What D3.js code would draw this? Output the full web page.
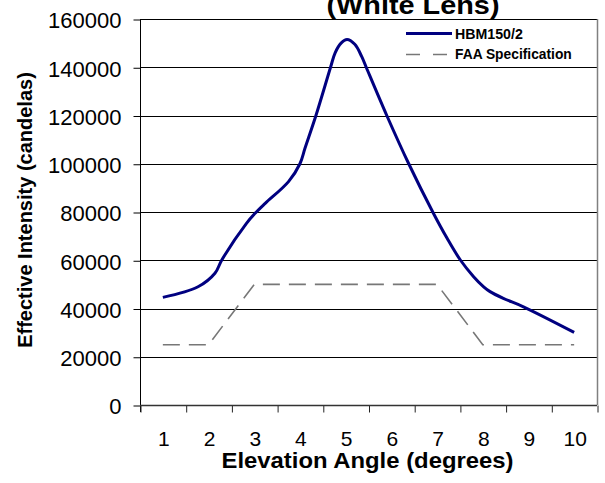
<!DOCTYPE html>
<html>
<head>
<meta charset="utf-8">
<script src="https://cdn.jsdelivr.net/npm/d3@7"></script>
<style>
  html, body { margin: 0; padding: 0; background: #fff; }
  svg { display: block; font-family: "Liberation Sans", Arial, sans-serif; }
</style>
</head>
<body>
<svg id="chart" width="605" height="483"></svg>
<script>
// ---- data ----
const titleText = "(White Lens)";
const xTitle = "Elevation Angle (degrees)";
const yTitle = "Effective Intensity (candelas)";
const xTickLabels = [1, 2, 3, 4, 5, 6, 7, 8, 9, 10];
const yTickValues = [0, 20000, 40000, 60000, 80000, 100000, 120000, 140000, 160000];

const hbmName = "HBM150/2";
const hbmAngle = [1.0, 1.77, 2.14, 2.29, 2.83, 3.02, 3.24, 3.75, 4.0, 4.11, 4.35, 4.67, 4.77, 4.9, 5.03, 5.2, 5.35, 5.45, 5.9, 6.375, 6.92, 7.22, 7.51, 7.8, 8.02, 8.16, 8.45, 8.89, 10.0];
const hbmValue = [44600, 49000, 54600, 60100, 75300, 79500, 83600, 92600, 100000, 106400, 120000, 140000, 146000, 150000, 151500, 149500, 144500, 140000, 120000, 100200, 79500, 69100, 60100, 53200, 49000, 47000, 44200, 40700, 30100];

const faaName = "FAA Specification";
const faaAngle = [1, 2, 3, 4, 5, 6, 7, 8, 9, 10];
const faaValue = [25000, 25000, 50000, 50000, 50000, 50000, 50000, 25000, 25000, 25000];

// ---- layout ----
const svg = d3.select("#chart");
const pLeft = 140, pRight = 597, pTop = 19, pBottom = 405;

const x = d3.scaleLinear().domain([0.5, 10.5]).range([pLeft, pRight]);
const y = d3.scaleLinear().domain([0, 160000]).range([pBottom, pTop]);

// gridlines
svg.append("g").selectAll("line").data(yTickValues.filter(v => v > 0)).join("line")
  .attr("x1", pLeft).attr("x2", pRight)
  .attr("y1", d => Math.round(y(d)) + 0.5).attr("y2", d => Math.round(y(d)) + 0.5)
  .attr("stroke", "#000").attr("stroke-width", 1);

// right border
svg.append("line").attr("x1", pRight + 0.5).attr("x2", pRight + 0.5)
  .attr("y1", pTop).attr("y2", pBottom).attr("stroke", "#808080").attr("stroke-width", 1.5);

// y axis
const yAxis = d3.axisLeft(y).tickValues(yTickValues).tickSize(7).tickPadding(12)
  .tickFormat(d3.format("d"));
const gy = svg.append("g").attr("transform", `translate(${pLeft + 0.5},0.5)`).call(yAxis);
gy.select(".domain").remove();
gy.selectAll(".tick line").attr("stroke", "#000");
gy.selectAll(".tick text").attr("font-size", 22).attr("fill", "#000")
  .attr("font-family", "'Liberation Sans', Arial, sans-serif").attr("dy", "0.38em");
svg.append("line").attr("x1", pLeft + 0.5).attr("x2", pLeft + 0.5)
  .attr("y1", pTop).attr("y2", pBottom + 7).attr("stroke", "#000");

// x axis: tick marks between categories, labels at category centres
const halfTicks = d3.range(0.5, 11, 1);
const xAxisTicks = d3.axisBottom(x).tickValues(halfTicks).tickSize(7).tickFormat("");
const gx = svg.append("g").attr("transform", `translate(0.5,${pBottom + 0.5})`).call(xAxisTicks);
gx.select(".domain").remove();
gx.selectAll(".tick line").attr("stroke", "#222");
svg.append("line").attr("x1", pLeft).attr("x2", pRight)
  .attr("y1", pBottom + 0.5).attr("y2", pBottom + 0.5).attr("stroke", "#333").attr("stroke-width", 1.5);

svg.append("g").selectAll("text").data(xTickLabels).join("text")
  .attr("x", d => x(d) + 1).attr("y", 445.5)
  .attr("text-anchor", "middle").attr("font-size", 21).attr("fill", "#000")
  .text(d => d);

// axis titles
svg.append("text").attr("x", 367.5).attr("y", 468).attr("text-anchor", "middle")
  .attr("font-size", 22).attr("font-weight", "bold")
  .attr("textLength", 292).attr("lengthAdjust", "spacingAndGlyphs").text(xTitle);
svg.append("text").attr("transform", "translate(32,210) rotate(-90)")
  .attr("text-anchor", "middle").attr("font-size", 20).attr("font-weight", "bold").text(yTitle);

// chart title (second line visible)
svg.append("text").attr("x", 413).attr("y", 13.5).attr("text-anchor", "middle")
  .attr("font-size", 26).attr("font-weight", "bold")
  .attr("textLength", 173).attr("lengthAdjust", "spacingAndGlyphs").text(titleText);

// series
const faaLine = d3.line().x((d, i) => x(faaAngle[i])).y(d => y(d));
svg.append("path").attr("d", faaLine(faaValue))
  .attr("fill", "none").attr("stroke", "#777").attr("stroke-width", 1.6)
  .attr("stroke-dasharray", "17,9");

const hbmLine = d3.line().x((d, i) => x(hbmAngle[i])).y(d => y(d)).curve(d3.curveCatmullRom.alpha(0.5));
svg.append("path").attr("d", hbmLine(hbmValue))
  .attr("fill", "none").attr("stroke", "#000080").attr("stroke-width", 3)
  .attr("stroke-linejoin", "round");

// legend
const lg = svg.append("g");
lg.append("line").attr("x1", 406).attr("x2", 452).attr("y1", 33.5).attr("y2", 33.5)
  .attr("stroke", "#000080").attr("stroke-width", 3);
lg.append("text").attr("x", 455).attr("y", 39).attr("font-size", 14.2).attr("font-weight", "bold").text(hbmName);
lg.append("line").attr("x1", 406).attr("x2", 448).attr("y1", 54.5).attr("y2", 54.5)
  .attr("stroke", "#777").attr("stroke-width", 1.6).attr("stroke-dasharray", "14,13");
lg.append("text").attr("x", 455).attr("y", 58.5).attr("font-size", 13.8).attr("font-weight", "bold").text(faaName);
</script>
</body>
</html>
